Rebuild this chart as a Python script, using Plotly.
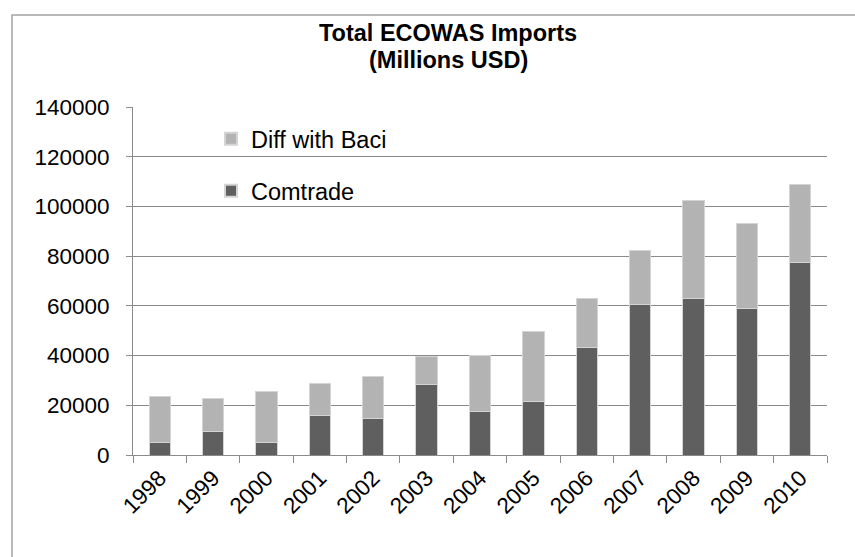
import plotly.graph_objects as go

years = ["1998", "1999", "2000", "2001", "2002", "2003", "2004",
         "2005", "2006", "2007", "2008", "2009", "2010"]
comtrade = [5000, 9300, 5100, 15700, 14800, 28200, 17500,
            21500, 43100, 60400, 63000, 58900, 77300]
diff_baci = [18400, 13400, 20500, 12900, 16600, 11500, 22500,
             28000, 20000, 21700, 39400, 34400, 31700]
y_ticks = [0, 20000, 40000, 60000, 80000, 100000, 120000, 140000]
title_lines = ["Total ECOWAS Imports", "(Millions USD)"]

W, H = 855, 557
L, R, T, B = 133, 28, 107, 102
pw, ph = W - L - R, H - T - B

FONT = "Liberation Sans, Arial, sans-serif"

fig = go.Figure()
fig.add_trace(go.Bar(
    x=years, y=comtrade, name="Comtrade",
    marker=dict(color="#5f5f5f", line=dict(color="#d4d4d4", width=1)),
    legend="legend2", showlegend=True,
))
fig.add_trace(go.Bar(
    x=years, y=diff_baci, name="Diff with Baci",
    marker=dict(color="#b3b3b3", line=dict(color="#d4d4d4", width=1)),
    legend="legend", showlegend=True,
))

def px_x(px):
    return (px - L) / pw

def px_y(py):
    return (H - B - py) / ph

legend_common = dict(
    xanchor="left", yanchor="middle",
    bgcolor="rgba(0,0,0,0)",
    font=dict(family=FONT, size=23.5, color="#000000"),
    itemsizing="constant",
)

annotations = [
    dict(text="<b>%s</b>" % t, xref="paper", yref="paper",
         x=px_x(448), y=px_y(yc), xanchor="center", yanchor="middle",
         showarrow=False,
         font=dict(family=FONT, size=23.5, color="#000000"))
    for t, yc in zip(title_lines, [33, 60])
]

fig.update_layout(
    width=W, height=H,
    margin=dict(l=L, r=R, t=T, b=B),
    paper_bgcolor="white", plot_bgcolor="white",
    barmode="stack", bargap=0.6,
    showlegend=True,
    annotations=annotations,
    legend=dict(x=px_x(211), y=px_y(139), **legend_common),
    legend2=dict(x=px_x(211), y=px_y(191), **legend_common),
    xaxis=dict(
        tickangle=-45, tickson="boundaries",
        ticks="outside", ticklen=7, tickcolor="#8a8a8a", tickwidth=1,
        showline=True, linecolor="#8a8a8a", linewidth=1,
        tickfont=dict(family=FONT, size=22.5, color="#000000"),
        showgrid=False,
    ),
    yaxis=dict(
        range=[0, 140000], tickvals=y_ticks,
        ticktext=[str(v) for v in y_ticks],
        ticks="outside", ticklen=6, tickcolor="#8a8a8a", tickwidth=1,
        showline=True, linecolor="#8a8a8a", linewidth=1,
        showgrid=True, gridcolor="#8a8a8a", gridwidth=1,
        zeroline=False,
        ticklabelstandoff=12,
        tickfont=dict(family=FONT, size=22.5, color="#000000"),
    ),
    shapes=[dict(
        type="rect", xref="paper", yref="paper",
        x0=px_x(12), x1=px_x(W + 40), y0=px_y(H + 40), y1=px_y(15),
        line=dict(color="#a3a3a3", width=1.5), layer="below",
    )],
)

fig.write_html("out.html")
